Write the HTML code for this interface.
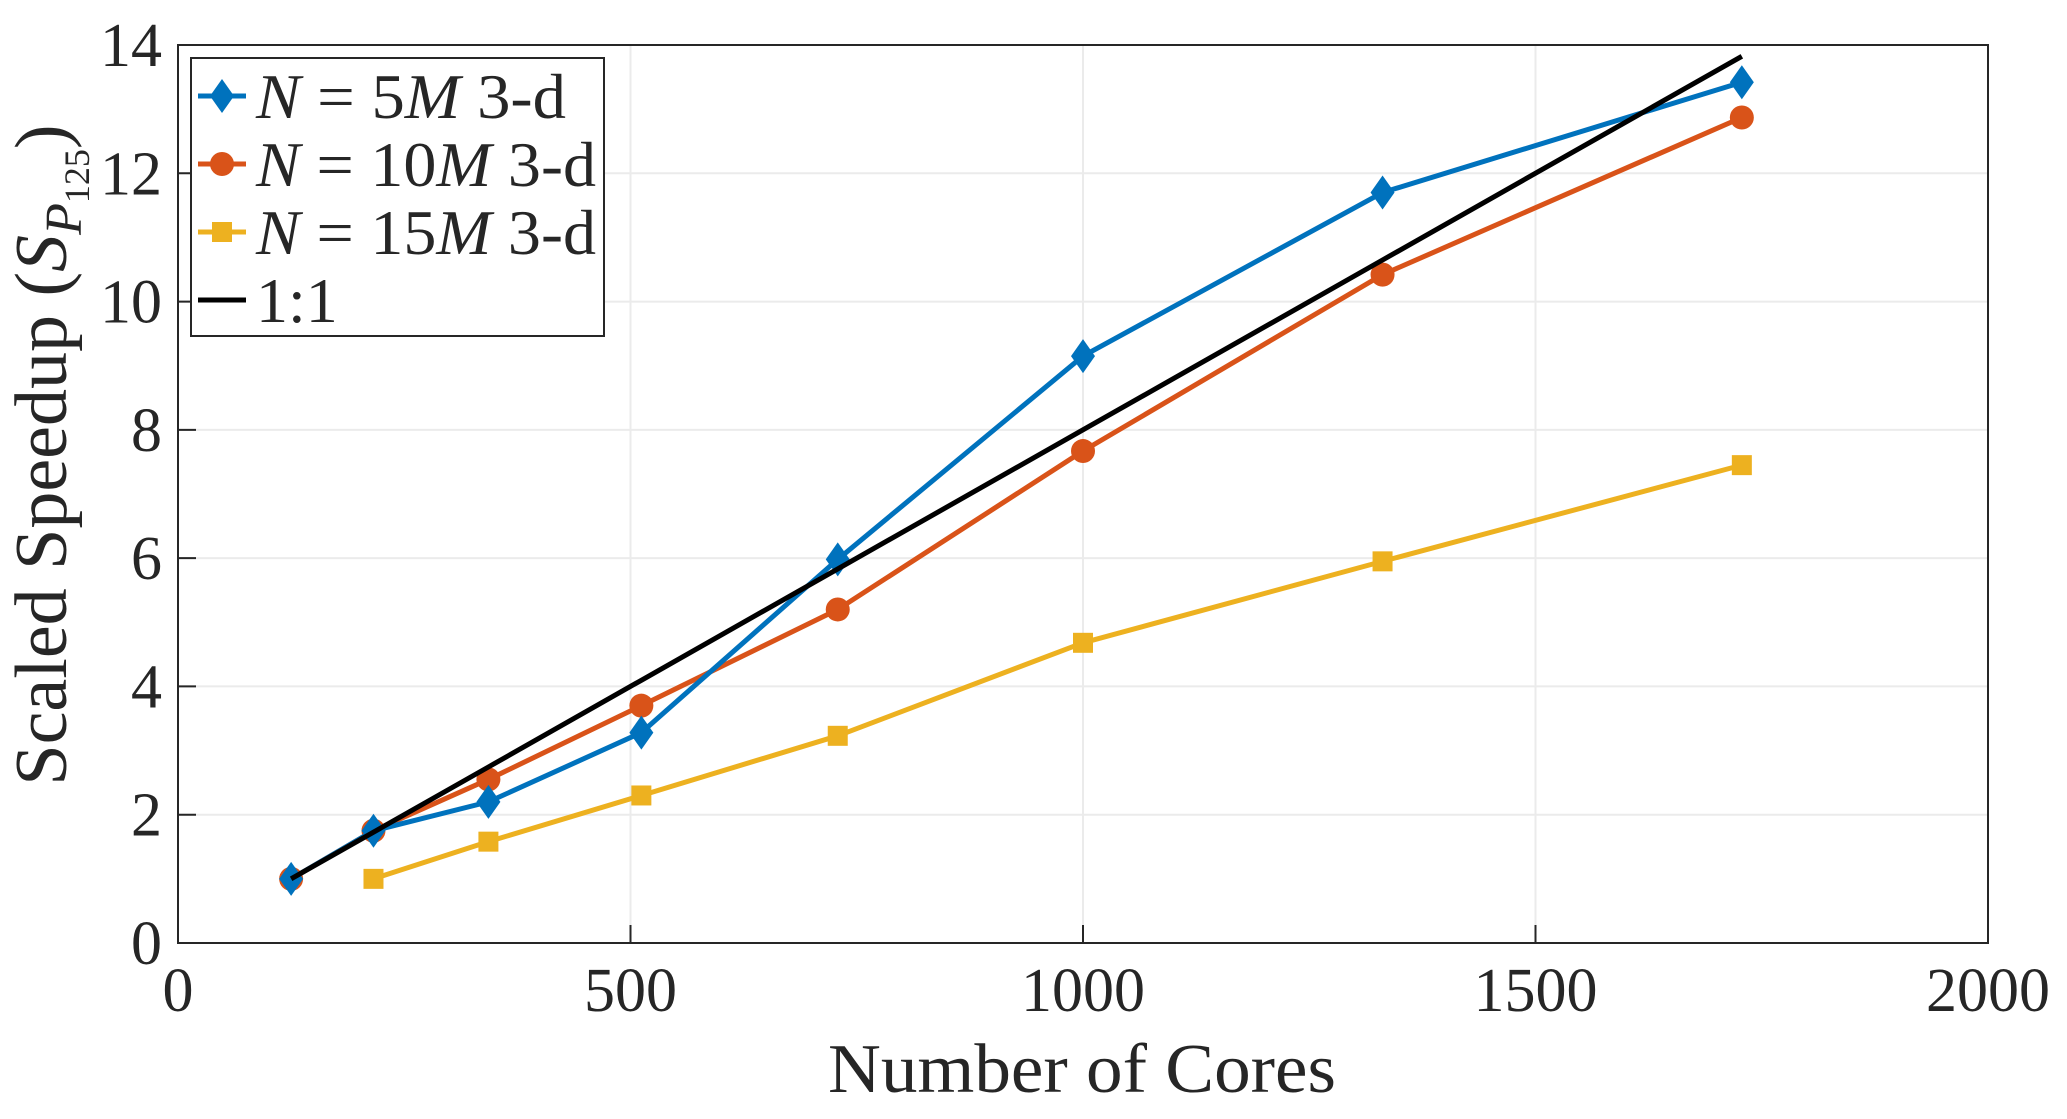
<!DOCTYPE html>
<html><head><meta charset="utf-8"><style>
html,body{margin:0;padding:0;background:#fff;}
svg text{font-family:"Liberation Serif",serif;fill:#262626;}
</style></head><body>
<svg id="chart" width="2067" height="1114" xmlns="http://www.w3.org/2000/svg">
<rect width="2067" height="1114" fill="#fff"/>
<g id="grid"></g>
<g id="axes"></g>
<g id="series"></g>
<g id="legend"></g>
<text x="1082" y="1092" font-size="70" text-anchor="middle" textLength="508" lengthAdjust="spacingAndGlyphs">Number of Cores</text>
<text transform="translate(66,455) rotate(-90)" font-size="74" text-anchor="middle">Scaled Speedup (<tspan font-style="italic">S</tspan><tspan font-style="italic" font-size="52" dy="15">P</tspan><tspan font-size="36" dy="8">125</tspan><tspan dy="-23">)</tspan></text>
</svg>
<script>
const cores = [125, 216, 343, 512, 729, 1000, 1331, 1728];
const s5M = [1, 1.75, 2.2, 3.28, 5.98, 9.15, 11.7, 13.42];
const s10M = [1, 1.75, 2.55, 3.7, 5.2, 7.67, 10.42, 12.87];
const cores15M = [216, 343, 512, 729, 1000, 1331, 1728];
const s15M = [1, 1.58, 2.3, 3.23, 4.68, 5.95, 7.45];
const ideal = [1, 1.728, 2.744, 4.096, 5.832, 8, 10.648, 13.824];
const xTicks = [0, 500, 1000, 1500, 2000];
const yTicks = [0, 2, 4, 6, 8, 10, 12, 14];

const L=178,R=1988,T=45,B=943;
const X=v=>L+(v/2000)*(R-L);
const Y=v=>B-(v/14)*(B-T);
const NS="http://www.w3.org/2000/svg";
function mk(tag,attrs,parent){const e=document.createElementNS(NS,tag);for(const k in attrs)e.setAttribute(k,attrs[k]);parent.appendChild(e);return e;}
const grid=document.getElementById('grid'),axes=document.getElementById('axes'),series=document.getElementById('series'),legend=document.getElementById('legend');

xTicks.forEach(t=>{
  const g=mk('line',{x1:X(t),x2:X(t),y1:T,y2:B,stroke:'#ebebeb','stroke-width':2},grid);
  
  
  const tk=mk('line',{x1:X(t),x2:X(t),y1:B,y2:B-18,stroke:'#262626','stroke-width':2},axes);
  
  
  const tx=mk('text',{x:X(t),y:B+68,'font-size':62,'text-anchor':'middle'},axes);
  tx.textContent=t;
  
  
});
yTicks.forEach(t=>{
  const g=mk('line',{x1:L,x2:R,y1:Y(t),y2:Y(t),stroke:'#ebebeb','stroke-width':2},grid);
  
  
  const tk=mk('line',{x1:L,x2:L+18,y1:Y(t),y2:Y(t),stroke:'#262626','stroke-width':2},axes);
  
  
  const tx=mk('text',{x:L-16,y:Y(t)+21,'font-size':62,'text-anchor':'end'},axes);
  tx.textContent=t;
  
  
});
const box=mk('rect',{x:L,y:T,width:R-L,height:B-T,fill:'none',stroke:'#262626','stroke-width':2},axes);



function marker(type,cx,cy,color,parent){
  let m;
  if(type==='d') m=mk('polygon',{points:`${cx},${cy-17} ${cx+12},${cy} ${cx},${cy+17} ${cx-12},${cy}`,fill:color},parent);
  else if(type==='o') m=mk('circle',{cx:cx,cy:cy,r:12,fill:color},parent);
  else if(type==='s') m=mk('rect',{x:cx-10,y:cy-10,width:20,height:20,fill:color},parent);
  return m;
}
function drawSeries(xs,ys,color,type,name){
  const g=mk('g',{},series);
  
  
  const pl=mk('polyline',{points:xs.map((x,i)=>X(x)+','+Y(ys[i])).join(' '),fill:'none',stroke:color,'stroke-width':5,'stroke-linejoin':'round'},g);
  
  
  if(type) xs.forEach((x,i)=>{
    const m=marker(type,X(x),Y(ys[i]),color,g);
    
    
  });
}
drawSeries(cores15M,s15M,'#EDB120','s','series-15m');
drawSeries(cores,s10M,'#D95319','o','series-10m');
drawSeries(cores,s5M,'#0072BD','d','series-5m');
drawSeries(cores,ideal,'#000000',null,'series-ideal');

const lb=mk('rect',{x:191,y:58,width:413,height:278,fill:'#fff',stroke:'#262626','stroke-width':2},legend);


const entries=[['#0072BD','d','5',310],['#D95319','o','10',340],['#EDB120','s','15',340],['#000000',null,null,0]];
entries.forEach((e,i)=>{
  const cy=96+i*68;
  const g=mk('g',{},legend);
  
  
  mk('line',{x1:198,x2:246,y1:cy,y2:cy,stroke:e[0],'stroke-width':5},g);
  if(e[1]) marker(e[1],222,cy,e[0],g);
  const t=mk('text',{x:256,y:cy+22,'font-size':64,fill:'#000'},g);
  if(e[2]){ t.innerHTML='<tspan font-style="italic">N</tspan> = '+e[2]+'<tspan font-style="italic">M</tspan> 3-d'; t.setAttribute('textLength',e[3]); t.setAttribute('lengthAdjust','spacingAndGlyphs'); }
  else t.textContent='1:1';
});
</script>
</body></html>
